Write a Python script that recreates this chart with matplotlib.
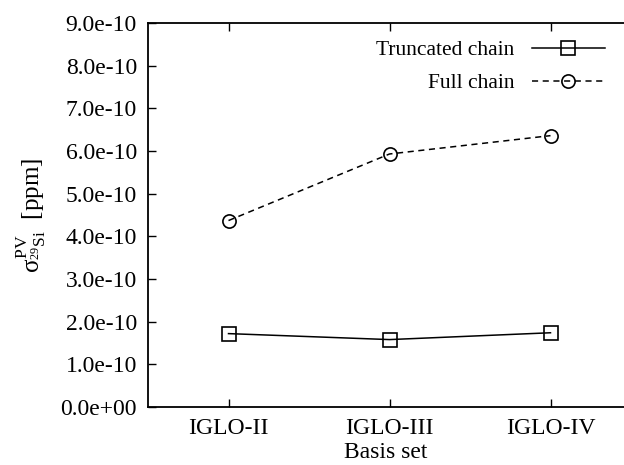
import matplotlib
matplotlib.use("Agg")
import matplotlib.pyplot as plt

plt.rcParams['font.family'] = ['Liberation Serif', 'DejaVu Serif']
plt.rcParams['mathtext.fontset'] = 'custom'
plt.rcParams['mathtext.rm'] = 'Liberation Serif'
plt.rcParams['mathtext.it'] = 'Liberation Serif'

basis = ["IGLO-II", "IGLO-III", "IGLO-IV"]
truncated = [1.72e-10, 1.58e-10, 1.74e-10]
full = [4.37e-10, 5.93e-10, 6.36e-10]
yticks = [i * 1e-10 for i in range(10)]
ylabels = ["0.0e+00"] + ["%.1fe-10" % i for i in range(1, 10)]

fig = plt.figure(figsize=(6.24, 4.65), dpi=100)
ax = fig.add_axes([148 / 624, 58 / 465, 476 / 624, 384 / 465])

x = [1, 2, 3]
ax.plot(x, truncated, color='black', lw=1.1, marker='s', ms=9.5,
        mfc='none', mew=1.2, label='Truncated chain')
ax.plot(x, full, color='black', lw=1.1, ls=(0, (4, 3)), marker='o', ms=9.5,
        mfc='none', mew=1.2, label='Full chain')

ax.set_xlim(0.5, 0.5 + 476 / 161)
ax.set_ylim(0, 9e-10)
ax.set_xticks(x)
ax.set_xticklabels(basis)
ax.set_yticks(yticks)
ax.set_yticklabels(ylabels)

ax.spines['right'].set_visible(False)
for s in ['left', 'top', 'bottom']:
    ax.spines[s].set_linewidth(1.3)
ax.tick_params(axis='both', direction='in', length=6, width=1.0, labelsize=17)
ax.tick_params(axis='x', top=True, pad=8)
ax.tick_params(axis='y', right=False, pad=8)

ax.set_xlabel('Basis set', fontsize=17, labelpad=2)
ax.set_ylabel(r'$\sigma^{\mathrm{PV}}_{^{29}\mathrm{Si}}$  [ppm]', fontsize=18, labelpad=9)

ax.legend(loc='upper right', bbox_to_anchor=(605 / 624, 1 - 40 / 465),
          bbox_transform=fig.transFigure, frameon=False, markerfirst=False,
          fontsize=15.5, handlelength=3.4, borderpad=0, borderaxespad=0,
          labelspacing=0.6, handletextpad=0.8)

fig.savefig('out.png', dpi=100)
